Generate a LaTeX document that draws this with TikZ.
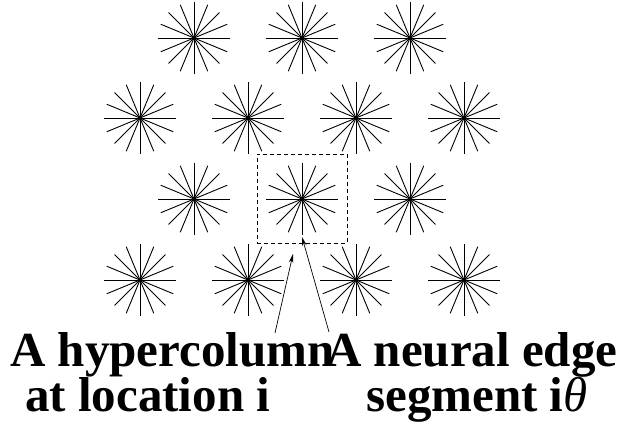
\documentclass[tikz,border=0pt]{standalone}
\usepackage{fontspec}
\setmainfont{Liberation Serif}
\usetikzlibrary{arrows.meta}
\tikzset{
  ray/.style={line width=0.9pt, black},
  starpic/.pic={
    \foreach \a in {0,22.5,...,157.5}
      \draw[ray] (\a:36) -- (\a+180:36);
    \fill (0,0) circle (1.8);
  },
  boxstyle/.style={draw, line width=0.8pt, dash pattern=on 4pt off 3pt},
  arr/.style={line width=0.7pt, -{Stealth[length=9pt,width=4.5pt]}},
  lbl/.style={inner sep=0pt, anchor=base west, font=\fontsize{49}{49}\selectfont\bfseries}
}
\begin{document}
\begin{tikzpicture}[x=1pt,y=-1pt]
\useasboundingbox (0,0) rectangle (619,427);
% star centres
\coordinate (s11) at (194,38);
\coordinate (s12) at (302,38);
\coordinate (s13) at (410,38);
\coordinate (s21) at (140,118);
\coordinate (s22) at (248,118);
\coordinate (s23) at (356,118);
\coordinate (s24) at (464,118);
\coordinate (s31) at (194,199);
\coordinate (s32) at (302,199);
\coordinate (s33) at (410,199);
\coordinate (s41) at (140,280);
\coordinate (s42) at (248,280);
\coordinate (s43) at (356,280);
\coordinate (s44) at (464,280);
\foreach \s in {s11,s12,s13,s21,s22,s23,s24,s31,s32,s33,s41,s42,s43,s44}
  \pic at (\s) {starpic};
% dashed hypercolumn box
\node[boxstyle, minimum width=90pt, minimum height=89pt, inner sep=0pt] (box) at (302,199) {};
% labels
\node[lbl] (l1a) at (10,367) {A hypercolumn};
\node[lbl] (l1b) at (25,412) {at location i};
\node[lbl] (l2a) at (326,367) {A neural edge};
\node[lbl] (l2b) at (366,412) {segment i{\mdseries\itshape θ}};
% arrows
\coordinate (t1) at (275,333);
\coordinate (h1) at (293,254);
\coordinate (t2) at (329,332);
\coordinate (h2) at (302,237);
\draw[arr] (t1) -- (h1);
\draw[arr] (t2) -- (h2);
\end{tikzpicture}
\end{document}
